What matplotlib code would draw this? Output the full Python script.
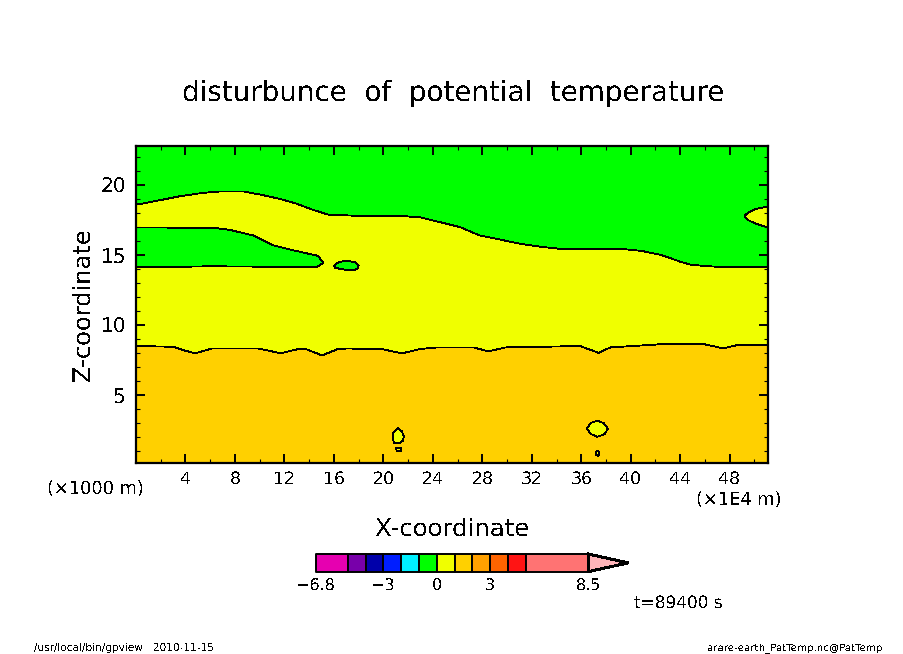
import numpy as np
import matplotlib
matplotlib.use('Agg')
import matplotlib.pyplot as plt

W,H=904,654

#contour lines
top_x=[0.0,1.5,3.5,5.4,6.8,8.7,10.2,11.7,12.9,14.1,15.5,18.1,21.4,23.0,24.6,26.2,27.8,29.5,31.1,32.7,34.3,39.2,40.9,42.5,44.1,44.9,47.2,51.2]
top_y=[18.6,18.85,19.2,19.45,19.55,19.55,19.3,19.0,18.7,18.3,17.9,17.8,17.8,17.7,17.35,17.0,16.4,16.1,15.8,15.6,15.45,15.45,15.3,15.0,14.5,14.3,14.15,14.15]
low_x=[0.0,3.0,3.85,4.8,6.15,9.8,10.6,11.7,13.0,13.8,15.05,16.25,17.05,20.0,21.5,23.0,24.35,25.4,27.3,28.5,29.85,35.9,37.4,38.35,42.25,46.0,47.5,48.6,51.2]
low_y=[8.5,8.45,8.2,7.98,8.33,8.33,8.2,7.98,8.26,8.26,7.83,8.26,8.33,8.26,7.98,8.29,8.4,8.4,8.4,8.12,8.4,8.5,8.02,8.4,8.62,8.62,8.33,8.57,8.57]

green1_x=[0.0,6.3,7.6,9.5,11.1,12.7,14.7,15.15,14.65,6.0,0.0]
green1_y=[16.98,16.95,16.8,16.4,15.7,15.35,14.95,14.45,14.15,14.2,14.12]
green2_x=[16.0,16.4,17.0,17.7,18.0,17.9,17.4,16.6,16.1]
green2_y=[14.25,14.5,14.6,14.5,14.25,14.0,13.9,14.0,14.1]
yel_r_x=[51.2,50.1,49.5,49.2,49.5,50.1,51.2]
yel_r_y=[18.5,18.3,18.05,17.8,17.5,17.25,16.95]
yel_a_x=[21.2,21.5,21.65,21.6,21.3,20.9,20.75,20.8]
yel_a_y=[2.62,2.4,2.05,1.75,1.55,1.55,1.85,2.3]
yel_b_x=[21.0,21.45,21.4,21.1]
yel_b_y=[1.2,1.2,0.98,0.98]
yel_c_x=[37.3,37.8,38.15,37.9,37.3,36.8,36.45,36.75]
yel_c_y=[3.16,3.0,2.6,2.2,2.02,2.2,2.6,3.0]
yel_d_x=[37.3,37.45,37.4,37.2,37.15]
yel_d_y=[1.02,0.9,0.66,0.7,0.9]

xticks_major=[4,8,12,16,20,24,28,32,36,40,44,48]
xticks_minor=[2,6,10,14,18,22,26,30,34,38,42,46,50]
yticks_major=[5,10,15,20]
yticks_minor=[1,2,3,4,6,7,8,9,11,12,13,14,16,17,18,19,21,22]

levels=[-6.8,-5,-4,-3,-2,-1,0,1,2,3,4,5,8.5]
level_colors=['#e600b0','#7800aa','#0000aa','#001eff','#00f0ff','#00ff00','#f0ff00','#ffd000','#ffa000','#ff6400','#ff1414','#ff7373']
over_color='#ffb4b9'
bar_ticks=[-6.8,-3,0,3,8.5]
bar_labels=['\u22126.8','\u22123','0','3','8.5']

GREEN,YELLOW,ORANGE='#00ff00','#f0ff00','#ffd000'

plt.rcParams['font.family']='DejaVu Sans'
plt.rcParams['text.antialiased']=False
plt.rcParams['text.hinting']='no_hinting'

def axes_box(l,t,r,b):
    return [l/W,1-b/H,(r-l)/W,(b-t)/H]

def label(px,py,s,size,**kw):
    kw.setdefault('ha','center')
    kw.setdefault('va','center')
    fig.text(px/W,1-py/H,s,fontsize=size,**kw)

fig=plt.figure(figsize=(W/100,H/100),dpi=100)
ax=fig.add_axes(axes_box(136,146,768,463))
ax.set_xlim(0,51.1)
ax.set_ylim(0.14,22.8)
ax.set_facecolor(GREEN)

ax.fill_between(top_x,0,top_y,color=YELLOW,lw=0,antialiased=False)
ax.fill_between(low_x,0,low_y,color=ORANGE,lw=0,antialiased=False)
ax.plot(top_x,top_y,color='k',lw=0.6,antialiased=False)
ax.plot(low_x,low_y,color='k',lw=0.6,antialiased=False)
for bx,by,c in [(green1_x,green1_y,GREEN),(green2_x,green2_y,GREEN),(yel_r_x,yel_r_y,YELLOW),
                (yel_a_x,yel_a_y,YELLOW),(yel_b_x,yel_b_y,YELLOW),(yel_c_x,yel_c_y,YELLOW),(yel_d_x,yel_d_y,YELLOW)]:
    ax.fill(bx,by,facecolor=c,edgecolor='k',lw=0.6,antialiased=False)

ax.set_xticks(xticks_major)
ax.set_xticks(xticks_minor,minor=True)
ax.set_yticks(yticks_major)
ax.set_yticks(yticks_minor,minor=True)
ax.tick_params(which='major',direction='in',length=6.5,width=1.4,top=True,right=True)
ax.tick_params(which='minor',direction='in',length=3.2,width=0.8,top=True,right=True)
ax.tick_params(axis='x',which='major',labelsize=12.5,pad=6)
ax.tick_params(axis='y',which='major',labelsize=14.5,pad=7)
for s in ax.spines.values():
    s.set_linewidth(1.6)

#colorbar
cax=fig.add_axes(axes_box(315.7,554,628.3,571.7))
cax.set_xlim(-6.8,10.75)
cax.set_ylim(0,1)
cax.axis('off')
for i,c in enumerate(level_colors):
    cax.fill_between([levels[i],levels[i+1]],0,1,facecolor=c,edgecolor='k',lw=1.4,antialiased=False,clip_on=False)
cax.fill([8.5,10.75,8.5],[1,0.5,0],facecolor=over_color,edgecolor='k',lw=1.4,antialiased=False,clip_on=False)
for v,s in zip(bar_ticks,bar_labels):
    cax.annotate(s,(v,0),xytext=(0,-15),textcoords='offset pixels',ha='center',va='center',fontsize=11.5,annotation_clip=False)

label(453,93,'disturbunce  of  potential  temperature',20)
label(452,529,'X-coordinate',17.6)
label(83,304,'Z-coordinate',17.4,rotation=90)
label(95.5,490,'(\u00d71000 m)',12.8)
label(739,501,'(\u00d71E4 m)',12.8)
label(678,603,'t=89400 s',12.2)
label(124,648,'/usr/local/bin/gpview   2010-11-15',7.6)
label(795.5,648,'arare-earth_PatTemp.nc@PatTemp',7.4)

fig.savefig('out.png',dpi=100)
